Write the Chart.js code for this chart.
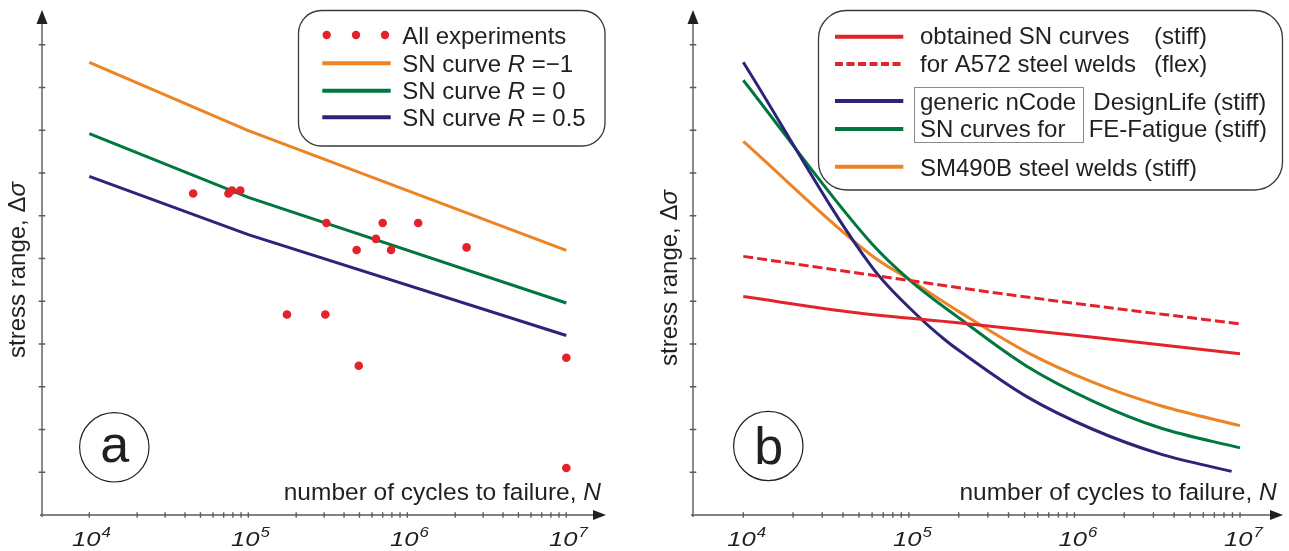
<!DOCTYPE html>
<html>
<head>
<meta charset="utf-8">
<script src="https://cdn.jsdelivr.net/npm/chart.js@4.4.1/dist/chart.umd.min.js"></script>
<style>
html, body { margin: 0; padding: 0; background: #fff; }
#wrap { position: relative; width: 1289px; height: 551px; }
canvas { position: absolute; top: 0; }
#chartA { left: 0; }
#chartB { left: 645px; }
</style>
</head>
<body>
<div id="wrap">
  <canvas id="chartA" width="645" height="551"></canvas>
  <canvas id="chartB" width="644" height="551"></canvas>
</div>
<script>
// axis ticks (the stress axis has no numbers, units are arbitrary)
const decades = [1e4, 1e5, 1e6, 1e7];
const decadeExps = ['4', '5', '6', '7'];
const stressTicks = [1, 2, 3, 4, 5, 6, 7, 8, 9, 10, 11];

// panel a - experiments and SN curves
const expN = [45000, 75000, 79000, 89000, 310000, 700000, 1170000, 635000, 480000, 790000, 2360000, 175000, 305000, 495000, 1e7, 1e7];
const expS = [7.52, 7.52, 7.59, 7.59, 6.83, 6.83, 6.83, 6.46, 6.20, 6.20, 6.26, 4.69, 4.69, 3.49, 3.68, 1.10];
const snN = [1e4, 1e5, 1e7];
const snRm1 = [10.59, 8.99, 6.19];
const snR0 = [8.92, 7.43, 4.96];
const snR05 = [7.92, 6.56, 4.20];
const labelsA = ['All experiments', 'SN curve R =\u22121', 'SN curve R = 0', 'SN curve R = 0.5'];

// panel b - compared curves
const a572StiffN = [1e4, 4.84e4, 2.04e5, 1.3e6, 1e7];
const a572StiffS = [5.11, 4.73, 4.49, 4.16, 3.77];
const a572FlexN = [1e4, 6.85e4, 4.08e5, 1e7];
const a572FlexS = [6.05, 5.58, 5.15, 4.47];
const nCodeN = [1e4, 6.04e4, 1.11e5, 1.65e5, 2.04e5, 5.15e5, 1.3e6, 3.28e6, 8.9e6];
const nCodeS = [10.59, 5.78, 4.69, 4.10, 3.83, 2.77, 2.00, 1.43, 1.02];
const feN = [1e4, 5.96e4, 1.015e5, 2.04e5, 5.15e5, 1.3e6, 3.28e6, 1e7];
const feS = [10.17, 6.35, 5.49, 4.59, 3.48, 2.66, 2.04, 1.57];
const sm490N = [1e4, 5.96e4, 1.015e5, 2.04e5, 5.15e5, 1.3e6, 3.28e6, 1e7];
const sm490S = [8.74, 6.07, 5.50, 4.74, 3.81, 3.10, 2.56, 2.09];
const legendRowsB = [
  ['obtained SN curves', '(stiff)'],
  ['for A572 steel welds', '(flex)'],
  ['generic nCode', 'DesignLife (stiff)'],
  ['SN curves for', 'FE-Fatigue (stiff)'],
  ['SM490B steel welds (stiff)']
];

const RED = '#e2232b', ORANGE = '#ee8323', GREEN = '#00773e', NAVY = '#2c2478';
const TXT = '#231f20';
const FONT = '"Liberation Sans", Arial, sans-serif';

const pts = (xs, ys) => xs.map((x, i) => ({ x: x, y: ys[i] }));

// text with italic R, N and sigma
function runs(str) {
  return str.split(/(\bR\b|\bN\b|σ)/).filter(s => s.length).map(s => [s, /^(R|N|σ)$/.test(s)]);
}
function runsWidth(ctx, rs, size) {
  let w = 0;
  rs.forEach(r => { ctx.font = (r[1] ? 'italic ' : '') + size + 'px ' + FONT; w += ctx.measureText(r[0]).width; });
  return w;
}
function drawRuns(ctx, str, x, y, size, align) {
  const rs = runs(str);
  let cx = x;
  if (align === 'center') cx = x - runsWidth(ctx, rs, size) / 2;
  if (align === 'right') cx = x - runsWidth(ctx, rs, size);
  ctx.textAlign = 'left';
  ctx.textBaseline = 'alphabetic';
  ctx.fillStyle = TXT;
  rs.forEach(r => {
    ctx.font = (r[1] ? 'italic ' : '') + size + 'px ' + FONT;
    ctx.fillText(r[0], cx, y);
    cx += ctx.measureText(r[0]).width;
  });
}
function roundBox(ctx, x0, y0, x1, y1, r) {
  ctx.beginPath();
  ctx.moveTo(x0 + r, y0);
  ctx.arcTo(x1, y0, x1, y1, r);
  ctx.arcTo(x1, y1, x0, y1, r);
  ctx.arcTo(x0, y1, x0, y0, r);
  ctx.arcTo(x0, y0, x1, y0, r);
  ctx.closePath();
  ctx.stroke();
}

function legendA(chart, ctx) {
  const ds = chart.data.datasets;
  ctx.strokeStyle = '#3a3a3a';
  ctx.lineWidth = 1.3;
  roundBox(ctx, 298.5, 10.5, 605, 146, 23);
  ctx.fillStyle = ds[0].backgroundColor;
  [326.7, 356, 385].forEach(cx => { ctx.beginPath(); ctx.arc(cx, 35, 4.2, 0, Math.PI * 2); ctx.fill(); });
  [63.3, 90.7, 117.3].forEach((ry, k) => {
    ctx.strokeStyle = ds[k + 1].borderColor;
    ctx.lineWidth = 4;
    ctx.beginPath(); ctx.moveTo(322.3, ry); ctx.lineTo(390.7, ry); ctx.stroke();
  });
  [44.3, 71.7, 99, 126].forEach((by, k) => drawRuns(ctx, ds[k].label, 402.3, by, 24));
}

function legendB(chart, ctx) {
  const ds = chart.data.datasets;
  ctx.strokeStyle = '#3a3a3a';
  ctx.lineWidth = 1.3;
  roundBox(ctx, 173.5, 10.5, 637.5, 190, 28);
  ctx.strokeStyle = '#8c8c8c';
  ctx.lineWidth = 1;
  ctx.strokeRect(269.5, 87.5, 169, 55);
  [36.7, 64, 101, 129, 166.7].forEach((ry, k) => {
    ctx.strokeStyle = ds[k].borderColor;
    ctx.lineWidth = 4;
    ctx.setLineDash(ds[k].borderDash ? [8, 3.5] : []);
    ctx.beginPath(); ctx.moveTo(190, ry); ctx.lineTo(258.3, ry); ctx.stroke();
  });
  ctx.setLineDash([]);
  const base = [44, 71.5, 109.5, 137, 175.5];
  const second = [509, 509, 448.3, 443.7];
  legendRowsB.forEach((row, k) => {
    drawRuns(ctx, row[0], 275, base[k], 24);
    if (row[1]) drawRuns(ctx, row[1], second[k], base[k], 24);
  });
}

const decor = {
  id: 'decor',
  afterDatasetsDraw(chart, args, o) {
    const { ctx, chartArea: ca, scales: { x, y } } = chart;
    const y0 = y.getPixelForValue(0);
    ctx.save();
    // axis lines and ticks
    ctx.strokeStyle = '#5b5b5b';
    ctx.lineWidth = 1.4;
    ctx.beginPath();
    ctx.moveTo(ca.left - 2, y0); ctx.lineTo(ca.right - 10, y0);
    ctx.moveTo(ca.left, y0 + 2); ctx.lineTo(ca.left, ca.top + 12);
    decades.forEach((d, i) => {
      const last = i === decades.length - 1 ? 1 : 9;
      for (let m = 1; m <= last; m++) {
        const px = x.getPixelForValue(m * d);
        ctx.moveTo(px, y0 - 2.7); ctx.lineTo(px, y0 + 2.7);
      }
    });
    stressTicks.forEach(v => {
      const py = y.getPixelForValue(v);
      ctx.moveTo(ca.left - 3.3, py); ctx.lineTo(ca.left + 3.3, py);
    });
    ctx.stroke();
    // arrow heads
    ctx.fillStyle = TXT;
    ctx.beginPath();
    ctx.moveTo(ca.right, y0); ctx.lineTo(ca.right - 13, y0 - 5); ctx.lineTo(ca.right - 13, y0 + 5);
    ctx.closePath(); ctx.fill();
    ctx.beginPath();
    ctx.moveTo(ca.left, ca.top); ctx.lineTo(ca.left - 5.5, ca.top + 14); ctx.lineTo(ca.left + 5.5, ca.top + 14);
    ctx.closePath(); ctx.fill();

    // decade labels 10^k
    decades.forEach((d, i) => {
      const px = x.getPixelForValue(d);
      ctx.font = 'italic 21px ' + FONT;
      const w1 = ctx.measureText('10').width * 1.22;
      ctx.font = 'italic 14px ' + FONT;
      const w2 = ctx.measureText(decadeExps[i]).width * 1.2;
      const sx = px - (w1 + w2 + 1) / 2 + o.labelShift;
      ctx.fillStyle = TXT;
      ctx.textAlign = 'left';
      ctx.textBaseline = 'alphabetic';
      ctx.save();
      ctx.translate(sx, 545.5); ctx.scale(1.22, 1);
      ctx.font = 'italic 21px ' + FONT;
      ctx.fillText('10', 0, 0);
      ctx.restore();
      ctx.save();
      ctx.translate(sx + w1 + 1, 536.5); ctx.scale(1.2, 1);
      ctx.font = 'italic 14px ' + FONT;
      ctx.fillText(decadeExps[i], 0, 0);
      ctx.restore();
    });

    // axis titles
    drawRuns(ctx, 'number of cycles to failure, N', o.xTitleRight, 500, 24.5, 'right');
    ctx.save();
    ctx.translate(o.yTitleX, o.yTitleY);
    ctx.rotate(-Math.PI / 2);
    drawRuns(ctx, 'stress range, Δσ', 0, 0, 24, 'center');
    ctx.restore();

    // panel letter
    ctx.strokeStyle = TXT;
    ctx.lineWidth = 1.2;
    ctx.beginPath(); ctx.arc(o.circleX, o.circleY, 34.7, 0, Math.PI * 2); ctx.stroke();
    ctx.fillStyle = TXT;
    ctx.font = '52px ' + FONT;
    ctx.textAlign = 'center';
    ctx.fillText(o.letter, o.circleX + 0.5, o.letterBase);

    if (o.letter === 'a') legendA(chart, ctx); else legendB(chart, ctx);
    ctx.restore();
  }
};

const lineDs = (label, xs, ys, color, extra) => Object.assign({
  label: label, data: pts(xs, ys), showLine: true, borderColor: color, backgroundColor: color,
  borderWidth: 3, pointRadius: 0, tension: 0, fill: false
}, extra || {});

const baseOptions = (pad, xmin, xmax, deco) => ({
  responsive: false,
  animation: false,
  devicePixelRatio: 1,
  layout: { padding: pad },
  scales: {
    x: { type: 'logarithmic', min: xmin, max: xmax, display: false },
    y: { type: 'linear', min: 0, max: 11.813, display: false }
  },
  plugins: { legend: { display: false }, tooltip: { enabled: false }, decor: deco }
});

new Chart(document.getElementById('chartA'), {
  type: 'scatter',
  data: {
    datasets: [
      { label: labelsA[0], data: pts(expN, expS), backgroundColor: RED, borderColor: RED, pointRadius: 4.3, pointBorderWidth: 0 },
      lineDs(labelsA[1], snN, snRm1, ORANGE),
      lineDs(labelsA[2], snN, snR0, GREEN),
      lineDs(labelsA[3], snN, snR05, NAVY)
    ]
  },
  options: baseOptions({ left: 42, right: 39, top: 10, bottom: 36 }, 5040, 1.777e7,
    { letter: 'a', circleX: 114.3, circleY: 447.3, letterBase: 461.7, yTitleX: 25, yTitleY: 270, xTitleRight: 601, labelShift: 2 }),
  plugins: [decor]
});

const curve = { cubicInterpolationMode: 'monotone' };
new Chart(document.getElementById('chartB'), {
  type: 'scatter',
  data: {
    datasets: [
      lineDs('obtained SN curves for A572 steel welds (stiff)', a572StiffN, a572StiffS, RED, curve),
      lineDs('obtained SN curves for A572 steel welds (flex)', a572FlexN, a572FlexS, RED, { cubicInterpolationMode: 'monotone', borderDash: [10, 4] }),
      lineDs('generic nCode DesignLife (stiff)', nCodeN, nCodeS, NAVY, curve),
      lineDs('SN curves for FE-Fatigue (stiff)', feN, feS, GREEN, curve),
      lineDs('SM490B steel welds (stiff)', sm490N, sm490S, ORANGE, curve)
    ]
  },
  options: baseOptions({ left: 48, right: 6, top: 10, bottom: 36 }, 4970, 1.818e7,
    { letter: 'b', circleX: 123.3, circleY: 446, letterBase: 464, yTitleX: 32, yTitleY: 278, xTitleRight: 631.7, labelShift: 3.5 }),
  plugins: [decor]
});
</script>
</body>
</html>
